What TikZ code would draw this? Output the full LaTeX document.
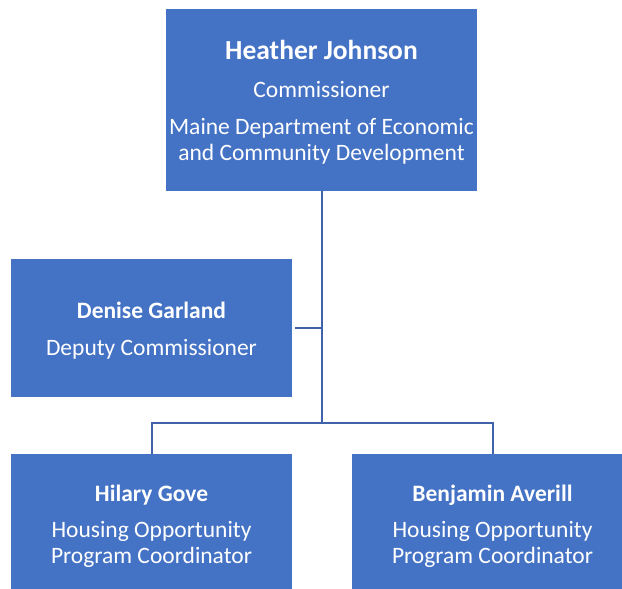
\documentclass[tikz,border=0pt]{standalone}
\usepackage{fontspec}
\setmainfont{Carlito}
\definecolor{boxblue}{RGB}{68,114,196}
\definecolor{linkblue}{RGB}{63,98,170}
\begin{document}
\begin{tikzpicture}[x=1pt,y=-1pt,
  person/.style={fill=boxblue, draw=none, inner sep=0pt,
    minimum width=281pt, minimum height=138pt},
  caption/.style={text=white, align=center, inner sep=0pt,
    font=\fontsize{23.5}{26}\selectfont},
  link/.style={draw=linkblue, line width=2pt}]
\useasboundingbox (0,0) rectangle (622,589);
% boxes
\node[person, minimum width=311pt, minimum height=182pt] (hj) at (321.5,100) {};
\node[person] (dg) at (151.5,328) {};
\node[person] (hg) at (151.5,523) {};
\node[person] (ba) at (492.5,523) {};
% box texts
\node[caption] (hjt) at ([yshift=-2pt]hj.center)
  {{\fontsize{27.5}{30}\selectfont\bfseries Heather Johnson}\\[12pt] Commissioner\\[11pt] Maine Department of Economic\\ and Community Development};
\node[caption] (dgt) at ([yshift=-2.5pt]dg.center)
  {\textbf{Denise Garland}\\[11pt] Deputy Commissioner};
\node[caption] (hgt) at ([yshift=-3pt]hg.center)
  {\textbf{Hilary Gove}\\[10pt] Housing Opportunity\\ Program Coordinator};
\node[caption] (bat) at ([yshift=-3pt]ba.center)
  {\textbf{Benjamin Averill}\\[10pt] Housing Opportunity\\ Program Coordinator};
% connectors
\coordinate (split) at (hj.south |- 0,423);
\draw[link] (hj.south) -- (split);
\draw[link] ([xshift=3pt]dg.east) -- (dg.east -| hj.south);
\draw[link] (hg.north) -- (hg.north |- split) -- (ba.north |- split) -- (ba.north);
\end{tikzpicture}
\end{document}
